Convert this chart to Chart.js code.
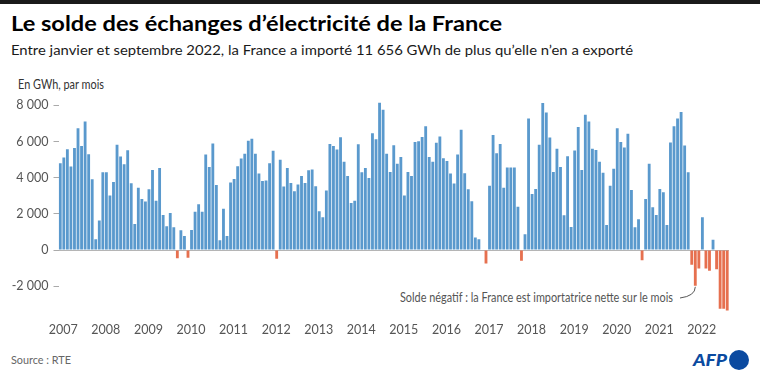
<!DOCTYPE html>
<html lang="fr">
<head>
<meta charset="utf-8">
<script src="https://cdn.jsdelivr.net/npm/chart.js@4.4.0/dist/chart.umd.min.js"></script>
<style>
  body { margin: 0; background: #fff; }
  #page { position: relative; width: 760px; height: 377px; overflow: hidden; background: #fff;
          font-family: Lato, "Source Sans Pro", sans-serif; }
  #topbar { position: absolute; left: 0; top: 0; width: 760px; height: 4px; background: #1a1a1a; }
  .txt { position: absolute; white-space: nowrap; line-height: 1; transform-origin: 0 0; display: inline-block; }
  #title { left: 11px; top: 12px; font-size: 21px; font-weight: 700; color: #000; }
  #subtitle { left: 11px; top: 42.5px; font-size: 14px; color: #1a1a1a; }
  #unit { left: 18px; top: 79px; font-size: 12.5px; color: #333; }
  #note { left: 400px; top: 290.5px; font-size: 13px; color: #555; }
  #source { left: 11px; top: 353.5px; font-size: 12px; color: #666; }
  #afp { left: 693px; top: 350.5px; font-size: 17px; font-weight: 900; font-style: italic; color: #0b4aa0; }
  #afpdot { position: absolute; left: 729px; top: 349.5px; width: 20px; height: 20px; border-radius: 50%; background: #0b4aa0; }
  canvas { position: absolute; left: 0; top: 0; }
</style>
</head>
<body>
<div id="page">
  <div id="topbar"></div>
  <div class="txt" id="title" data-w="491">Le solde des échanges d’électricité de la France</div>
  <div class="txt" id="subtitle" data-w="622">Entre janvier et septembre 2022, la France a importé 11 656 GWh de plus qu’elle n’en a exporté</div>
  <div class="txt" id="unit" data-w="86">En GWh, par mois</div>
  <div class="txt" id="note" data-w="273">Solde négatif : la France est importatrice nette sur le mois</div>
  <div class="txt" id="source" data-w="60">Source : RTE</div>
  <div class="txt" id="afp" data-w="34">AFP</div>
  <div id="afpdot"></div>
  <canvas id="chart" width="760" height="377"></canvas>
</div>
<script>
// ---------------- Data --------------------------------------------------
const years = [ '2007', '2008', '2009', '2010', '2011', '2012', '2013', '2014',
                '2015', '2016', '2017', '2018', '2019', '2020', '2021', '2022' ] ;

// monthly balance, GWh (Jan..Dec)
const y2007 = [ 4800, 5120, 5580, 4620, 5650, 6740, 5760, 7110, 5300, 3920, 590, 1640 ] ;
const y2008 = [ 4300, 4300, 3010, 3770, 5820, 5170, 4750, 5520, 3690, 1440, 3440, 2830 ] ;
const y2009 = [ 2680, 3360, 4430, 2730, 4540, 1940, 1310, 2050, 1260, -460, 1090, 780 ] ;
const y2010 = [ -420, 1110, 2120, 2530, 2120, 5280, 4600, 5890, 3600, 540, 2290, 780 ] ;
const y2011 = [ 3730, 3930, 4640, 5060, 5320, 6040, 6150, 5320, 4230, 3820, 3840, 4800 ] ;
const y2012 = [ 5490, -480, 5000, 3510, 4540, 3710, 3250, 3620, 4100, 3710, 4410, 4450 ] ;
const y2013 = [ 3530, 2140, 1810, 3290, 5870, 5760, 5560, 6240, 4890, 4100, 2600, 2720 ] ;
const y2014 = [ 5850, 4300, 4540, 3990, 6460, 6130, 8150, 7760, 5320, 4320, 5800, 4770 ] ;
const y2015 = [ 5150, 3010, 4320, 4100, 5980, 6020, 6260, 6850, 5150, 4880, 5930, 6280 ] ;
const y2016 = [ 5080, 4930, 4230, 3680, 5280, 6650, 4250, 3360, 2700, 700, 590, 0 ] ;
const y2017 = [ -740, 3550, 6370, 5360, 5870, 3440, 4560, 4560, 4560, 2400, -590, 870 ] ;
const y2018 = [ 7280, 3100, 3380, 5820, 8130, 7610, 6220, 4320, 5600, 4600, 1920, 5190 ] ;
const y2019 = [ 1270, 5500, 6800, 4430, 7480, 7110, 5610, 5540, 4880, 4270, 1390, 3550 ] ;
const y2020 = [ 4490, 6740, 5980, 5670, 6430, 3320, 1260, 1700, -570, 2830, 4770, 2360 ] ;
const y2021 = [ 1940, 3380, 3200, 1390, 5950, 6850, 7280, 7630, 5780, 4300, -810, -1980 ] ;
const y2022 = [ -1020, 1810, -1020, -1150, 570, -1070, -3250, -3250, -3340 ] ;

const yTicks = [ -2000, 0, 2000, 4000, 6000, 8000 ] ;
const noteMonth = '2021-12' ;

const balance = [].concat( y2007, y2008, y2009, y2010, y2011, y2012, y2013, y2014,
                           y2015, y2016, y2017, y2018, y2019, y2020, y2021, y2022 ) ;
const months = [] ;
years.forEach( function( yr ) {
    for( let m = 1; m <= 12; m++ ) months.push( yr + '-' + String( m ).padStart( 2, '0' ) ) ;
} ) ;
months.length = balance.length ;

const BLUE = '#5a99cd' ;
const RED  = '#e6704f' ;

// ---------------- Text fitting ------------------------------------------
document.querySelectorAll( '.txt' ).forEach( function( el ) {
    const w = el.getBoundingClientRect().width ;
    el.style.transform = 'scaleX(' + ( el.dataset.w / w ) + ')' ;
} ) ;

function fmt( v ) {
    const s = String( Math.abs( v ) ).replace( /\B(?=(\d{3})+(?!\d))/g, '\u00a0' ) ;
    return ( v < 0 ? '-' : '' ) + s ;
}

// leader line from the note to the bar it points at
const leaderLine = {
    id: 'leaderLine',
    afterDatasetsDraw( chart ) {
        const bar = chart.getDatasetMeta( 0 ).data[ months.indexOf( noteMonth ) ] ;
        const r = document.getElementById( 'note' ).getBoundingClientRect() ;
        const x0 = r.right + 7, y0 = r.top + 7.5 ;
        const ctx = chart.ctx ;
        ctx.save() ;
        ctx.strokeStyle = '#555' ;
        ctx.lineWidth = 1 ;
        ctx.beginPath() ;
        ctx.moveTo( x0, y0 ) ;
        ctx.quadraticCurveTo( bar.x, y0 - 2, bar.x, bar.y + 1 ) ;
        ctx.stroke() ;
        ctx.restore() ;
    }
} ;

new Chart( document.getElementById( 'chart' ), {
    type: 'bar',
    data: {
        labels: months,
        datasets: [ {
            data: balance,
            backgroundColor: balance.map( v => v < 0 ? RED : BLUE ),
            borderWidth: 0,
            barPercentage: 0.8,
            categoryPercentage: 1
        } ]
    },
    options: {
        responsive: false,
        animation: false,
        layout: { padding: { top: 100, right: 31, bottom: 0, left: 0 } },
        plugins: { legend: { display: false }, tooltip: { enabled: false } },
        scales: {
            x: {
                grid: { display: false, drawTicks: false },
                border: { display: false },
                afterFit: s => { s.height = 63.7 ; },
                ticks: {
                    autoSkip: false, maxRotation: 0, padding: 9, labelOffset: 3,
                    color: '#555', font: { family: 'Lato', size: 12.5 },
                    callback: function( v, i ) { return months[ i ].endsWith( '-01' ) ? months[ i ].slice( 0, 4 ) : '' ; }
                }
            },
            y: {
                min: -3500, max: 8300,
                afterBuildTicks: s => { s.ticks = yTicks.map( v => ( { value: v } ) ) ; },
                afterFit: s => { s.width = 58.5 ; },
                border: { display: false },
                grid: {
                    color: c => c.tick && c.tick.value === 0 ? '#b5b5b5' : 'rgba(0,0,0,0)',
                    tickColor: '#aaa', tickLength: 5, drawOnChartArea: true
                },
                ticks: { padding: 5, color: '#555', font: { family: 'Lato', size: 12.5 }, callback: v => fmt( v ) }
            }
        }
    },
    plugins: [ leaderLine ]
} ) ;
</script>
</body>
</html>
